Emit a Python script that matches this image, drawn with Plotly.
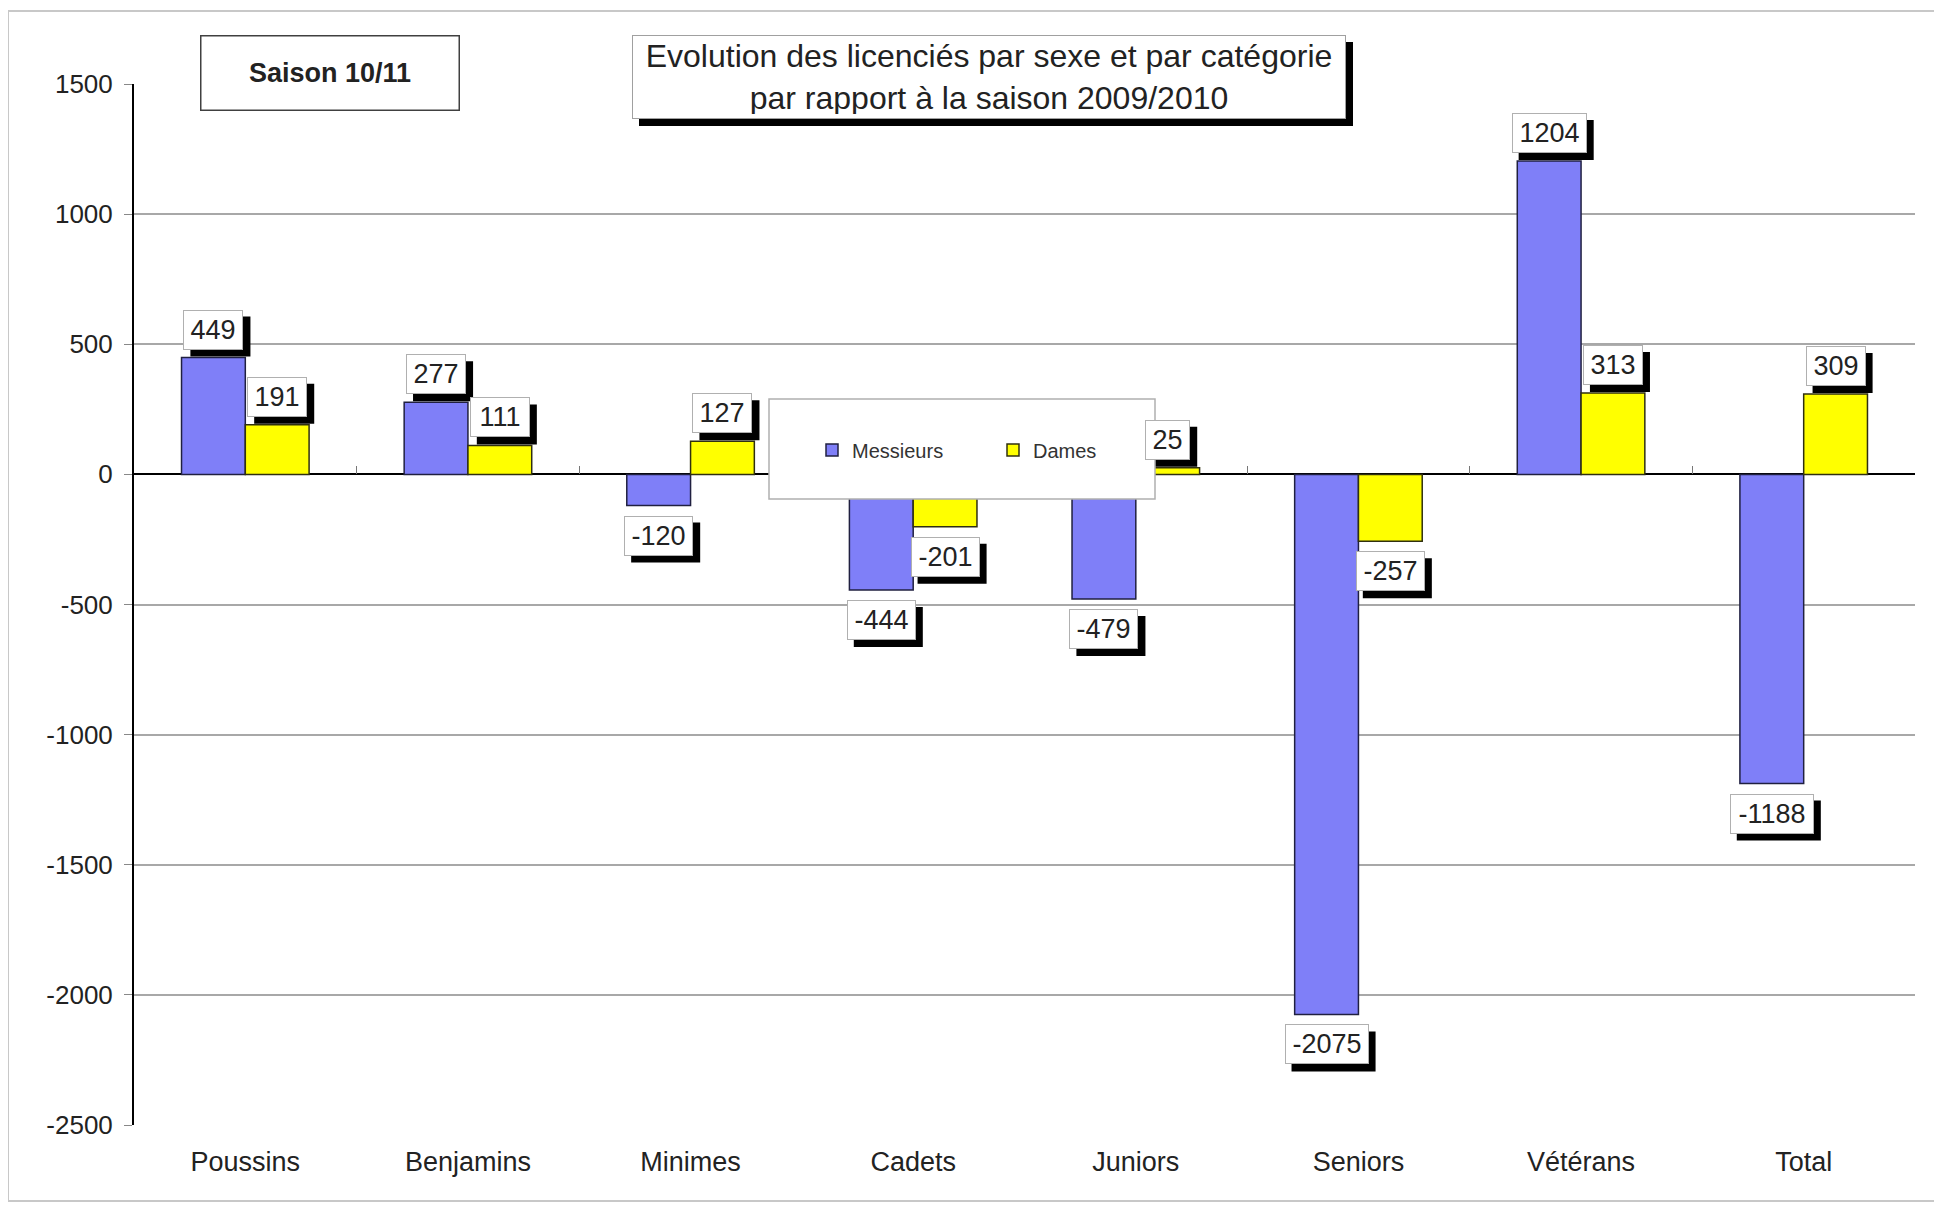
import plotly.graph_objects as go

# values (evolution 2010/11 vs 2009/10)
categories = ["Poussins", "Benjamins", "Minimes", "Cadets", "Juniors", "Seniors", "Vétérans", "Total"]
messieurs = [449, 277, -120, -444, -479, -2075, 1204, -1188]
dames = [191, 111, 127, -201, 25, -257, 313, 309]
y_ticks = [1500, 1000, 500, 0, -500, -1000, -1500, -2000, -2500]

# the page body has an 8px margin, so the figure is shrunk by that much
OFF = 8
W, H = 1942 - OFF, 1208 - OFF
ML, MR, MT, MB = 134 - OFF, 27, 84 - OFF, 83
plot_w = W - ML - MR
plot_h = H - MT - MB
BARGAP = 0.427

FONT = "Liberation Sans, Arial, sans-serif"
BLUE = "#7f7ff8"
YELLOW = "#ffff00"
LBL_SIZE = 27
SH = 7  # drop shadow offset, px


def px_x(p):
    return (p - OFF - ML) / plot_w


def px_y(p):
    return (H - MB - (p - OFF)) / plot_h


def text_w(s):
    # rough Arial metrics for digits and minus sign
    return sum(0.556 * LBL_SIZE if c.isdigit() else 0.333 * LBL_SIZE for c in s)


fig = go.Figure()
fig.add_trace(go.Bar(x=categories, y=messieurs, name="Messieurs",
                     marker=dict(color=BLUE, line=dict(color="#202040", width=1.5))))
fig.add_trace(go.Bar(x=categories, y=dames, name="Dames",
                     marker=dict(color=YELLOW, line=dict(color="#303010", width=1.5))))

# invisible trace so the tick marks on the zero line can be drawn
fig.add_trace(go.Scatter(x=categories, y=[0] * len(categories), xaxis="x2", mode="markers",
                         marker=dict(opacity=0), showlegend=False, hoverinfo="skip"))

shapes = [
    # outer frame
    dict(type="rect", xref="paper", yref="paper", x0=px_x(8), x1=px_x(1935),
         y0=px_y(1201), y1=px_y(11), line=dict(color="#c8c8c8", width=2), layer="below"),
]

# value labels: white box with black drop shadow (shadow drawn as a pixel-sized shape)
cat_px = plot_w / len(categories)
bar_px = cat_px * (1 - BARGAP) / 2
PAD, BW = 4, 1
for series, shift in ((messieurs, -bar_px / 2), (dames, bar_px / 2)):
    for i, v in enumerate(series):
        txt = str(v)
        w = text_w(txt) + 5
        h = 30
        box_w, box_h = w + 2 * PAD + 2 * BW, h + 2 * PAD + 2 * BW
        if v >= 0:
            anchor, ys = "bottom", 8
            y0, y1 = ys, ys + box_h
        else:
            anchor, ys = "top", -10
            y0, y1 = ys - box_h, ys
        shapes.append(dict(type="rect", xref="x", yref="y", xsizemode="pixel", ysizemode="pixel",
                           xanchor=i, yanchor=v,
                           x0=shift - box_w / 2 + SH, x1=shift + box_w / 2 + SH,
                           y0=y0 - SH, y1=y1 - SH,
                           fillcolor="black", line=dict(width=0), layer="above"))
        fig.add_annotation(x=categories[i], y=v, text=txt, showarrow=False,
                           xshift=shift, yshift=ys, yanchor=anchor, width=w, height=h,
                           font=dict(family=FONT, size=LBL_SIZE, color="#222"),
                           bgcolor="white", bordercolor="#b0b0b0", borderwidth=BW, borderpad=PAD)

# legend box (covers the bars and label shadows behind it)
shapes.append(dict(type="rect", xref="paper", yref="paper", x0=px_x(769), x1=px_x(1155),
                   y0=px_y(499), y1=px_y(399), fillcolor="white",
                   line=dict(color="#b0b0b0", width=1.5), layer="above"))

# title box with shadow
shapes.append(dict(type="rect", xref="paper", yref="paper", x0=px_x(632 + SH), x1=px_x(1346 + SH),
                   y0=px_y(119 + SH), y1=px_y(35 + SH), fillcolor="black", line=dict(width=0),
                   layer="above"))
title = "Evolution des licenciés par sexe et par catégorie<br>par rapport à la saison 2009/2010"
fig.add_annotation(xref="paper", yref="paper", x=px_x(989), y=px_y(77), text=title,
                   showarrow=False, width=704, height=74, xanchor="center", yanchor="middle",
                   font=dict(family=FONT, size=32, color="#222"),
                   bgcolor="white", bordercolor="#a0a0a0", borderwidth=1, borderpad=4)

# season box
fig.add_annotation(xref="paper", yref="paper", x=px_x(330), y=px_y(73), text="<b>Saison 10/11</b>",
                   showarrow=False, width=251, height=67, xanchor="center", yanchor="middle",
                   font=dict(family=FONT, size=27, color="#222"),
                   bgcolor="white", bordercolor="#404040", borderwidth=1.5, borderpad=3)

fig.update_layout(
    width=W, height=H,
    margin=dict(l=ML, r=MR, t=MT, b=MB),
    paper_bgcolor="white", plot_bgcolor="white",
    barmode="group", bargap=BARGAP, bargroupgap=0,
    font=dict(family=FONT, size=27, color="#222"),
    showlegend=True,
    legend=dict(orientation="h", x=px_x(812), y=px_y(450), xanchor="left", yanchor="middle",
                bgcolor="rgba(0,0,0,0)", borderwidth=0, entrywidth=136, entrywidthmode="pixels",
                font=dict(family=FONT, size=20, color="#333")),
    shapes=shapes,
    xaxis=dict(type="category", categoryorder="array", categoryarray=categories,
               range=[-0.5, len(categories) - 0.5], showgrid=False, showline=False,
               zeroline=False, ticks="", ticklabelstandoff=18,
               tickfont=dict(family=FONT, size=27, color="#222")),
    xaxis2=dict(type="category", categoryorder="array", categoryarray=categories,
                range=[-0.5, len(categories) - 0.5], overlaying="x", anchor="free",
                position=px_y(474), side="bottom", showline=False, showgrid=False,
                ticks="inside", tickson="boundaries", ticklen=8, tickcolor="#777",
                showticklabels=False, zeroline=False),
    yaxis=dict(range=[-2500, 1500], tickvals=y_ticks, ticktext=[str(v) for v in y_ticks],
               showgrid=True, gridcolor="#a8a8a8",
               gridwidth=1.5, zeroline=True, zerolinecolor="black", zerolinewidth=2,
               showline=True, linecolor="black", linewidth=2, ticks="outside", ticklen=8,
               tickcolor="#888", ticklabelstandoff=6,
               tickfont=dict(family=FONT, size=26, color="#222")),
)

fig.write_html("out.html")
